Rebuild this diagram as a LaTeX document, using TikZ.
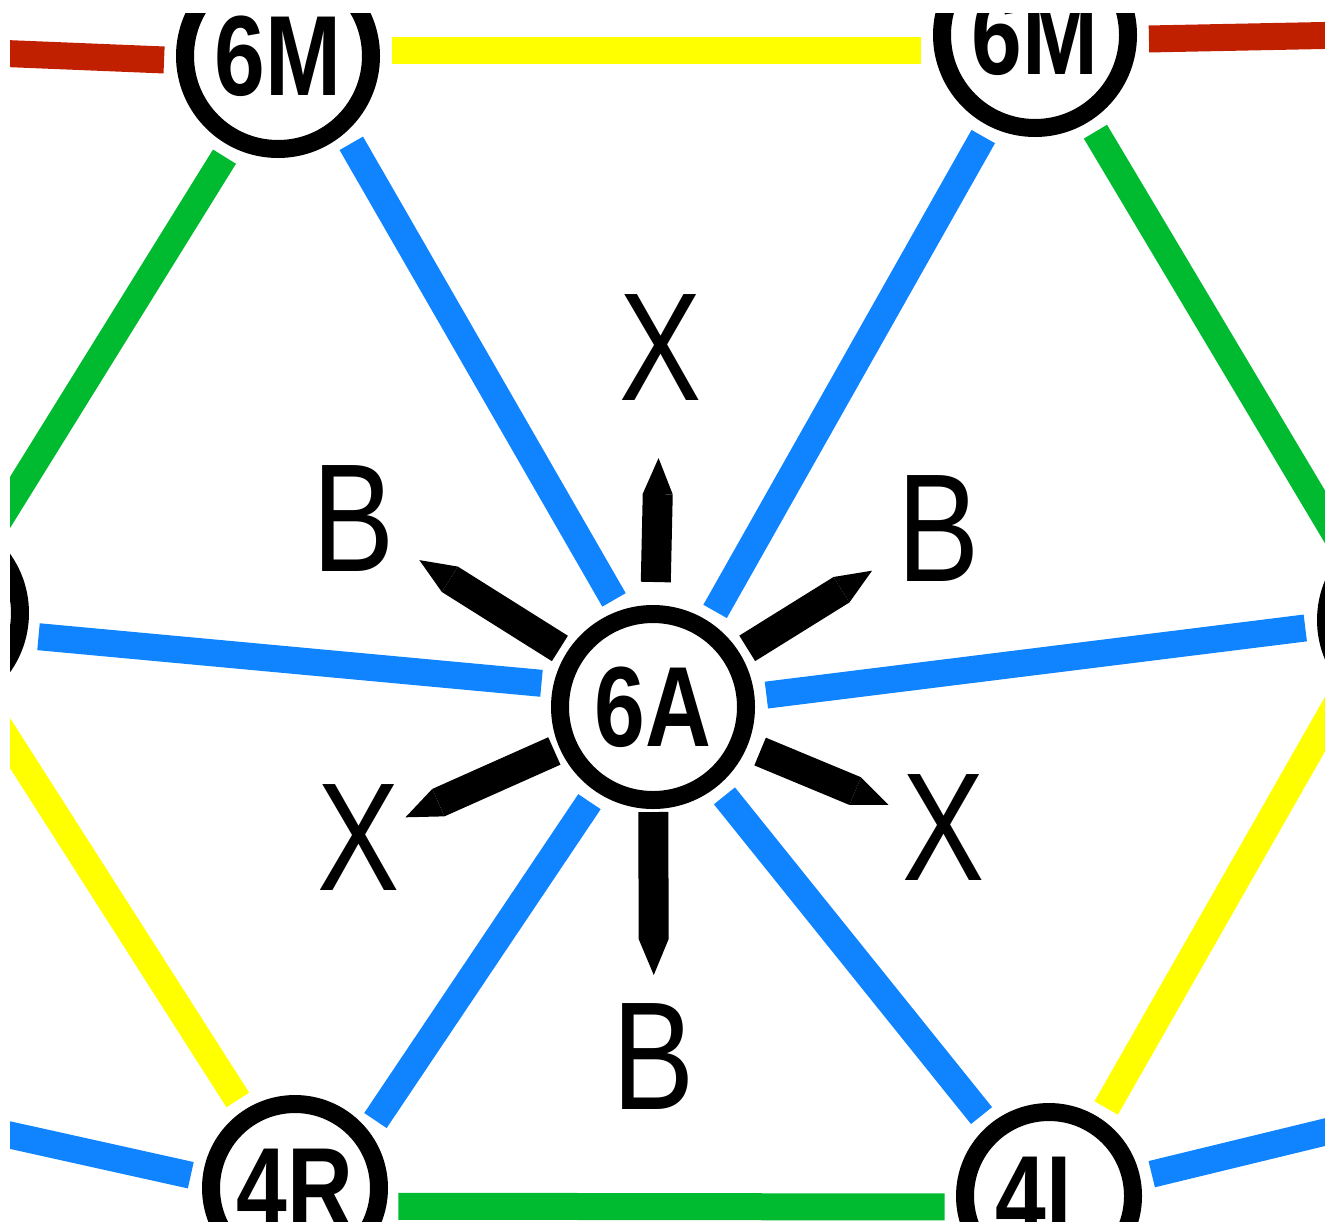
\documentclass[tikz,border=0pt]{standalone}
\usepackage{fontspec}
\setmainfont{Liberation Sans}[FakeStretch=0.8]
\usetikzlibrary{arrows.meta, calc}

\definecolor{trackred}{RGB}{192,32,0}
\definecolor{trackyellow}{RGB}{255,255,0}
\definecolor{trackgreen}{RGB}{0,187,48}
\definecolor{trackblue}{RGB}{16,132,255}

\begin{document}
\begin{tikzpicture}[x=0.5pt, y=-0.5pt]
  \tikzset{
    circ/.style={
      circle,
      draw=black,
      line width=9pt,
      minimum size=93pt,
      inner sep=0pt,
      outer sep=10.5pt,
      font=\fontsize{57}{57}\selectfont\bfseries,
      text centered},
    circsmall/.style={
      circ,
      minimum size=84pt},
    dirlabel/.style={
      inner sep=0pt,
      font=\fontsize{77}{77}\selectfont},
    track/.style={line width=13.5pt},
    pencil/.style={
      line width=15pt,
      -{Triangle[length=18pt,width=15pt,line width=0pt]}}}

  \useasboundingbox (0,0) rectangle (1325,1221);
  \clip (10,13) rectangle (1325,1221);

  \node[circ] (m6l) at (278,56) {6M};
  \node[circ] (m6r) at (1035,35) {6M};
  \node[circ] (a6) at (653,707) {6A};
  \node[circ] (west) at (-73,613) {};
  \node[circ] (east) at (1419,620) {};
  \node[circsmall] (r4) at (295,1188) {4R};
  \node[circsmall] (l4) at (1049,1196) {4L};

  \coordinate (offnw) at (-300,41);
  \coordinate (offne) at (1700,28);
  \coordinate (offsw) at (-400,1044);
  \coordinate (offse) at (1700,1041);

  \node[dirlabel] (xt) at (661,348) {X};
  \node[dirlabel] (bl) at (354,519) {B};
  \node[dirlabel] (br) at (939,529) {B};
  \node[dirlabel] (xl) at (359,838) {X};
  \node[dirlabel] (xr) at (944,828) {X};
  \node[dirlabel] (bd) at (654,1057) {B};

  % outer ring
  \path[track, trackred] (m6l.182) edge (offnw);
  \path[track, trackred] (m6r.-2) edge (offne);
  \path[track, trackyellow] (m6l.3) edge (m6l.3 -| m6r.west);
  \path[track, trackgreen] (m6l.242) edge (west.52);
  \path[track, trackgreen] (m6r.-58) edge (east.135);
  \path[track, trackyellow] (r4.123) edge (west);
  \path[track, trackyellow] (l4.57) edge (east.225);
  \path[track, trackgreen] (r4.-10) edge (l4.186);
  \path[track, trackblue] (r4.173) edge (offsw);
  \path[track, trackblue] (l4.12) edge (offse);

  % spokes of 6A
  \path[track, trackblue] (a6.110) edge (m6l.-50);
  \path[track, trackblue] (a6.57) edge (m6r.-117);
  \path[track, trackblue] (a6.168) edge (west.-12);
  \path[track, trackblue] (a6.6) edge (east.184);
  \path[track, trackblue] (a6) edge (r4.40);
  \path[track, trackblue] (a6) edge (l4.130);

  \draw[pencil] ($(a6)!62.5pt!(xt)$) -- ($(a6)!124.5pt!(xt)$);
  \draw[pencil] ($(a6)!55pt!(bl)$) -- ($(a6)!138pt!(bl)$);
  \draw[pencil] ($(a6)!55.5pt!(br)$) -- ($(a6)!129pt!(br)$);
  \draw[pencil] ($(a6)!54pt!(xl)$) -- ($(a6)!135.5pt!(xl)$);
  \draw[pencil] ($(a6)!58pt!(xr)$) -- ($(a6)!127.5pt!(xr)$);
  \draw[pencil] ($(a6)!52.5pt!(bd)$) -- ($(a6)!134pt!(bd)$);

\end{tikzpicture}
\end{document}
